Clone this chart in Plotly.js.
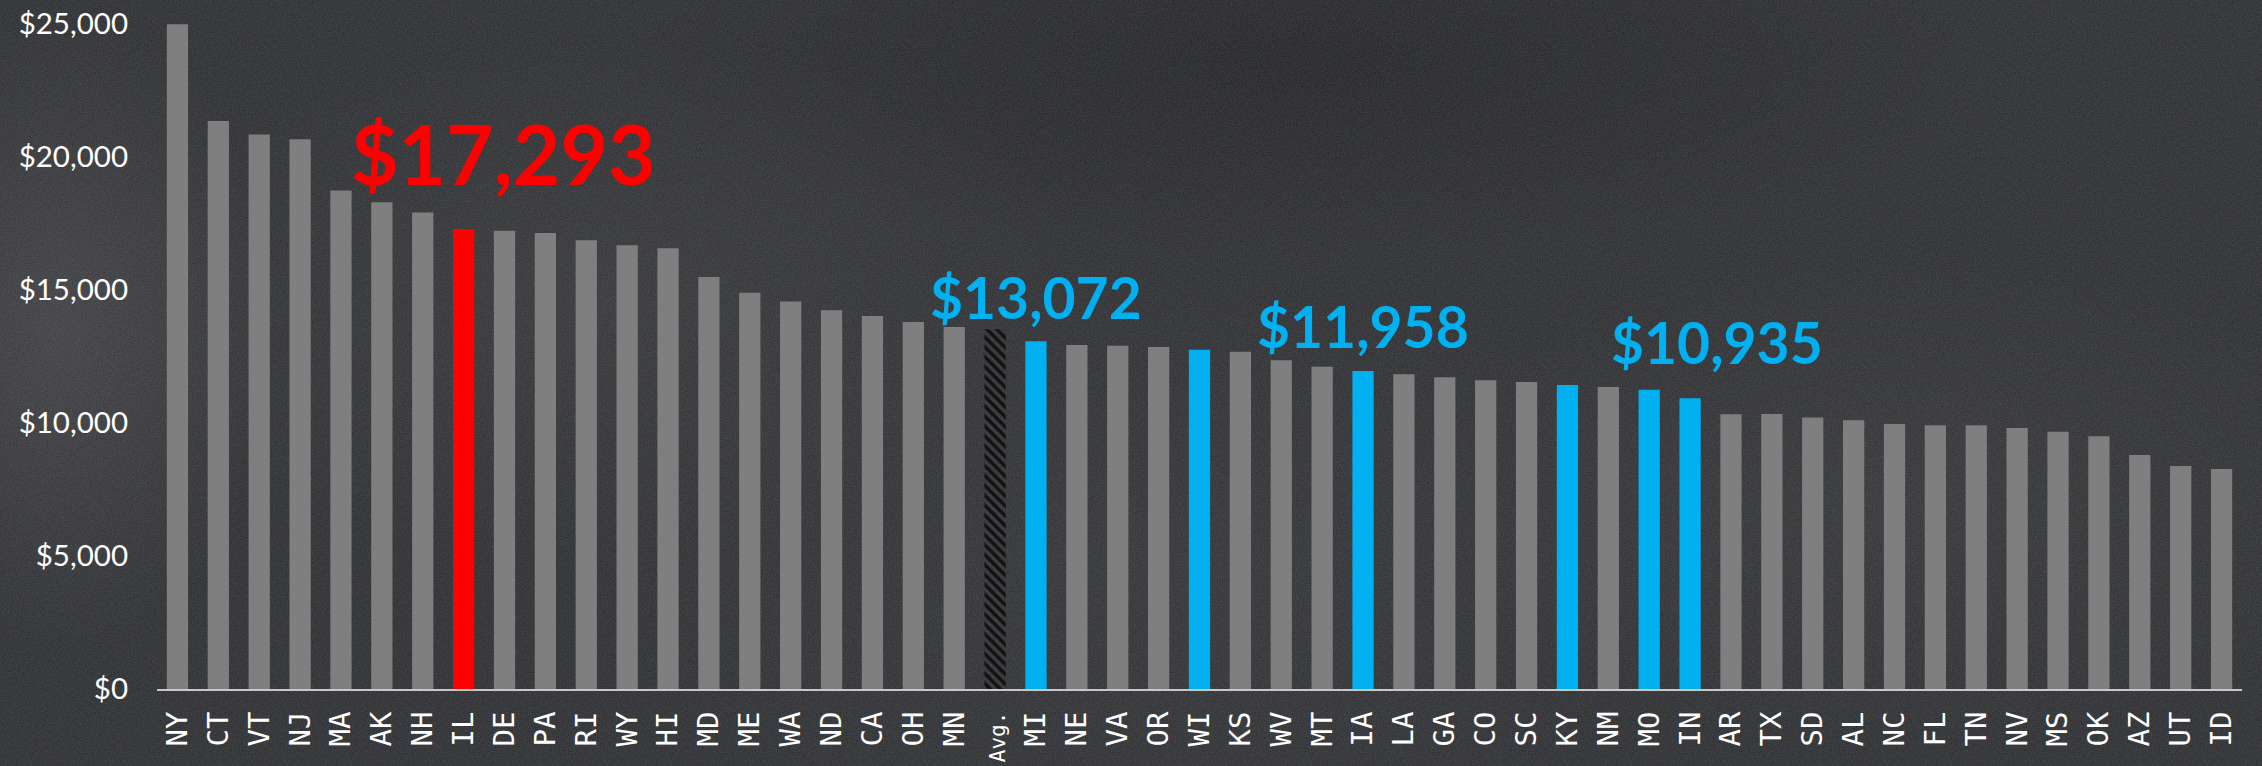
<!DOCTYPE html>
<html>
<head>
<meta charset="utf-8">
<script src="https://cdn.plot.ly/plotly-3.0.1.min.js"></script>
<style>
  html, body { margin: 0; padding: 0; }
  body {
    width: 2262px; height: 766px; overflow: hidden;
    background:
      url("data:image/svg+xml;utf8,<svg xmlns='http://www.w3.org/2000/svg' width='2262' height='766'><filter id='n'><feTurbulence type='fractalNoise' baseFrequency='0.8' numOctaves='2' seed='3'/><feColorMatrix values='0 0 0 0 1  0 0 0 0 1  0 0 0 0 1  0.16 0 0 0 0'/></filter><rect width='100%' height='100%' filter='url(%23n)'/></svg>"),
      radial-gradient(ellipse 220px 320px at 60px 330px, rgba(95,95,98,0.35), rgba(0,0,0,0) 100%),
      radial-gradient(ellipse 500px 260px at 600px 300px, rgba(80,80,84,0.22), rgba(0,0,0,0) 100%),
      radial-gradient(ellipse 600px 300px at 1150px 560px, rgba(70,70,74,0.2), rgba(0,0,0,0) 100%),
      radial-gradient(ellipse 500px 250px at 1900px 500px, rgba(75,75,78,0.22), rgba(0,0,0,0) 100%),
      radial-gradient(ellipse 700px 200px at 1300px 60px, rgba(20,20,22,0.45), rgba(0,0,0,0) 100%),
      #28292c;
  }
  #chart { width: 2262px; height: 766px; }
</style>
</head>
<body>
<div id="chart"></div>
<script>
// Categories (states, plus national average)
const states = ["NY","CT","VT","NJ","MA","AK","NH","IL","DE","PA","RI","WY","HI","MD","ME","WA","ND","CA","OH","MN","Avg.","MI","NE","VA","OR","WI","KS","WV","MT","IA","LA","GA","CO","SC","KY","NM","MO","IN","AR","TX","SD","AL","NC","FL","TN","NV","MS","OK","AZ","UT","ID"];
// Per-pupil spending, dollars
const spending = [24990,21350,20850,20670,18740,18300,17910,17293,17230,17140,16870,16680,16570,15490,14900,14570,14240,14020,13800,13610,13520,13072,12930,12900,12860,12750,12680,12360,12110,11958,11830,11720,11610,11540,11430,11350,11250,10935,10330,10340,10210,10100,9960,9920,9920,9810,9670,9500,8800,8380,8270];
// Highlight groups
const redStates = ["IL"];
const blueStates = ["MI","WI","IA","KY","MO","IN"];
const avgLabel = "Avg.";
// Callout labels
const calloutStates = ["IL","MI","IA","IN"];
const calloutText = ["$17,293","$13,072","$11,958","$10,935"];
// Y tick values and labels
const yTicks = [0,5000,10000,15000,20000,25000];
const yTickText = ["$0","$5,000","$10,000","$15,000","$20,000","$25,000"];

const GREY = "#7f7f7f", RED = "#ff0000", BLUE = "#00b0f0";

const colors = states.map(s => redStates.includes(s) ? RED : (blueStates.includes(s) ? BLUE : (s === avgLabel ? "#111111" : GREY)));
const shapes = states.map(s => s === avgLabel ? "\\" : "");
const xTickText = states.map(s => s === avgLabel ? "<span style='font-size:21px'>" + s + "</span>" : s);

const trace = {
  type: "bar",
  x: states,
  y: spending,
  marker: {
    color: colors,
    line: { width: 0 },
    pattern: { shape: shapes, fgcolor: GREY, bgcolor: "#111111", size: 7, solidity: 0.5, fillmode: "replace" }
  },
  hoverinfo: "x+y"
};

const calloutStyle = {
  "IL": { color: RED, size: 82, xshift: 40, yshift: 76 },
  "MI": { color: BLUE, size: 57, xshift: 0, yshift: 44 },
  "IA": { color: BLUE, size: 57, xshift: 0, yshift: 45 },
  "IN": { color: BLUE, size: 57, xshift: 27, yshift: 56 }
};

const annotations = calloutStates.map((s, i) => {
  const st = calloutStyle[s];
  return {
    x: s, y: spending[states.indexOf(s)], xref: "x", yref: "y",
    text: "<b>" + calloutText[i] + "</b>",
    showarrow: false, xanchor: "center", yanchor: "middle",
    xshift: st.xshift, yshift: st.yshift,
    font: { family: "Lato, sans-serif", size: st.size, color: st.color }
  };
});

const layout = {
  width: 2262, height: 766,
  margin: { l: 157, r: 20, t: 24, b: 77, pad: 0 },
  paper_bgcolor: "rgba(0,0,0,0)",
  plot_bgcolor: "rgba(0,0,0,0)",
  bargap: 0.48,
  showlegend: false,
  xaxis: {
    type: "category",
    tickmode: "array",
    tickvals: states,
    ticktext: xTickText,
    tickangle: -90,
    showline: true, linecolor: "#c8c8c8", linewidth: 2,
    showgrid: false, zeroline: false, ticks: "",
    ticklabelstandoff: 9,
    tickfont: { family: "DejaVu Sans Mono, monospace", size: 29, color: "#ffffff" },
    fixedrange: true
  },
  yaxis: {
    range: [0, 25000],
    tickmode: "array",
    tickvals: yTicks,
    ticktext: yTickText,
    showline: false, showgrid: false, zeroline: false, ticks: "",
    ticklabelstandoff: 28,
    tickfont: { family: "Lato, sans-serif", size: 29.5, color: "#ffffff" },
    fixedrange: true
  },
  annotations: annotations
};

Plotly.newPlot("chart", [trace], layout, { displayModeBar: false, staticPlot: true });
</script>
</body>
</html>
